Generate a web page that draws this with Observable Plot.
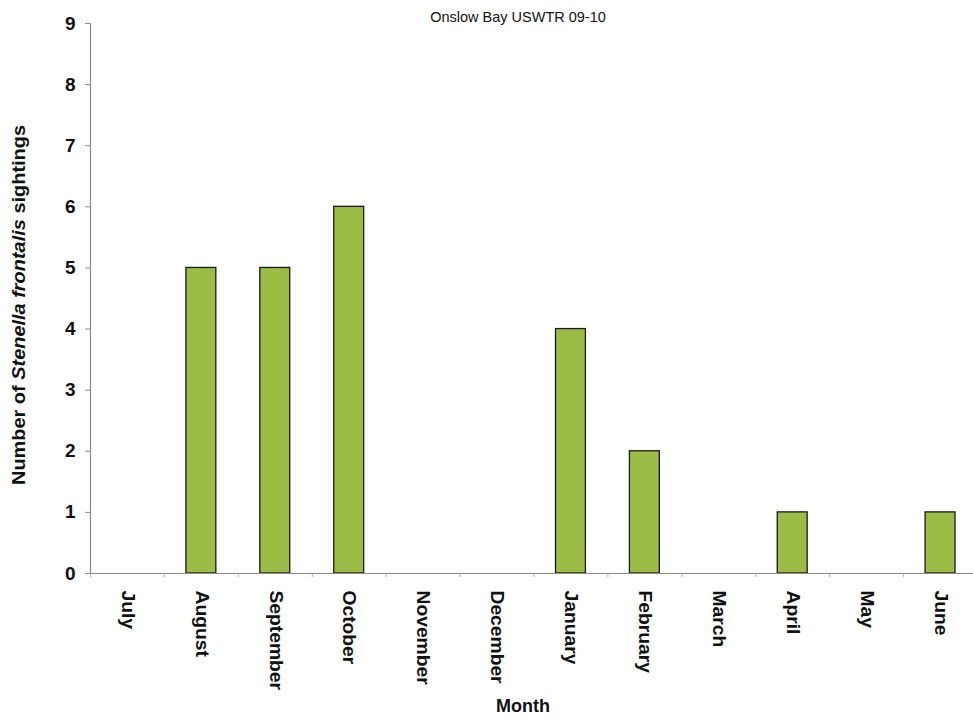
<!DOCTYPE html>
<html>
<head>
<meta charset="utf-8">
<script src="https://cdn.jsdelivr.net/npm/d3@7"></script>
<script src="https://cdn.jsdelivr.net/npm/@observablehq/plot@0.6"></script>
<style>
  html, body { margin: 0; padding: 0; background: #fff; }
  #chart svg { display: block; }
</style>
</head>
<body>
<div id="chart"></div>
<script>
const months = ["July","August","September","October","November","December","January","February","March","April","May","June"];
const counts = [0, 5, 5, 6, 0, 0, 4, 2, 0, 1, 0, 1];
const yTicks = [0,1,2,3,4,5,6,7,8,9];
const title = "Onslow Bay USWTR 09-10";
const xLabel = "Month";

const data = months.map((m, i) => ({month: m, i, count: counts[i]}));
const boundaries = d3.range(months.length + 1);

const W = 973, H = 719;
const mL = 90, mT = 23, mB = 146;

const chart = Plot.plot({
  width: W,
  height: H,
  marginLeft: mL,
  marginRight: 0,
  marginTop: mT,
  marginBottom: mB,
  style: {fontFamily: "'Liberation Sans', Arial, sans-serif", background: "#fff"},
  x: {domain: [0, months.length], range: [mL, 977], axis: null},
  y: {domain: [0, 9], axis: null},
  marks: [
    Plot.rectY(data.filter(d => d.count > 0), {
      x1: "i", x2: d => d.i + 1, y: "count",
      insetLeft: 22, insetRight: 22,
      fill: "#9bbd45", stroke: "#1a1a1a", strokeWidth: 1.3
    }),
    Plot.ruleY([0], {stroke: "#8c8c8c", strokeWidth: 1.2}),
    Plot.ruleX([0], {y1: 0, y2: 9, stroke: "#8c8c8c", strokeWidth: 1.2}),
    Plot.ruleX(boundaries, {y1: 0, y2: 0, insetBottom: -4, stroke: "#aaa"}),
    Plot.axisY({
      ticks: yTicks, tickSize: 5, tickPadding: 10, stroke: "#8c8c8c",
      fill: "#111", fontSize: 19, fontWeight: "bold", label: null
    }),
    Plot.text(data, {
      x: d => d.i + 0.5, y: 0, text: "month", rotate: 90,
      textAnchor: "start", dy: 17, fontSize: 18, fontWeight: "bold", fill: "#111",
      className: "xlab"
    })
  ]
});

document.getElementById("chart").appendChild(chart);

const svg = d3.select(chart);

// stretch month labels slightly along their reading direction, as in the scanned original
svg.selectAll(".xlab text").each(function() {
  const len = this.getComputedTextLength();
  this.setAttribute("textLength", (len * 1.07).toFixed(1));
  this.setAttribute("lengthAdjust", "spacingAndGlyphs");
});

svg.append("text")
  .attr("x", 518).attr("y", 22)
  .attr("text-anchor", "middle")
  .attr("font-size", 14.5)
  .attr("fill", "#111")
  .text(title);

svg.append("text")
  .attr("x", 523).attr("y", 712)
  .attr("text-anchor", "middle")
  .attr("font-size", 18)
  .attr("font-weight", "bold")
  .attr("fill", "#111")
  .text(xLabel);

const yl = svg.append("text")
  .attr("transform", "translate(25,305) rotate(-90)")
  .attr("text-anchor", "middle")
  .attr("font-size", 17.5)
  .attr("font-weight", "bold")
  .attr("fill", "#111");
yl.append("tspan").text("Number of ");
yl.append("tspan").attr("font-style", "italic").text("Stenella frontalis");
yl.append("tspan").text(" sightings");
{
  const node = yl.node();
  const len = node.getComputedTextLength();
  node.setAttribute("textLength", "360");
  node.setAttribute("lengthAdjust", "spacingAndGlyphs");
}
</script>
</body>
</html>
